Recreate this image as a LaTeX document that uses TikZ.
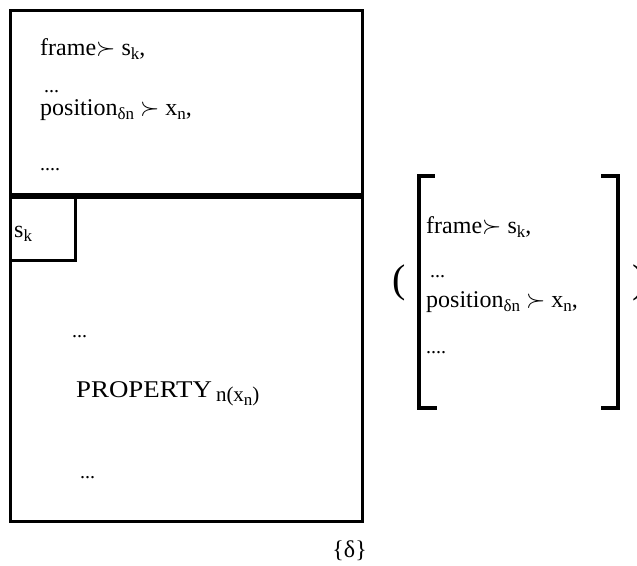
\documentclass[tikz,border=0pt]{standalone}
\usepackage{fontspec}
\setmainfont{Liberation Serif}
\usepackage{graphicx}
\newcommand\lo[1]{\raisebox{-0.2em}{\fontsize{17}{17}\selectfont #1}}
\newcommand\lobig[1]{\raisebox{-0.18em}{\fontsize{21}{21}\selectfont #1}}
\newcommand\pr{\ensuremath{\succ}}
\begin{document}
\begin{tikzpicture}[x=1pt,y=-1pt,
  txt/.style={anchor=base west,inner sep=0pt,font=\fontsize{24}{28}\selectfont},
  dots/.style={anchor=base west,inner sep=0pt,font=\fontsize{20}{24}\selectfont},
  boxline/.style={line width=3pt,line cap=rect},
  brk/.style={line width=3.5pt,line cap=rect,line join=miter}]
\useasboundingbox (0,0) rectangle (637,565);
% main frame
\draw[boxline] (10,10) rectangle (362,521);
\draw[line width=5.5pt] (10,196) -- (362,196);
\draw[boxline] (75,196) -- (75,260) -- (10,260);
% top box
\node[txt] (t1) at (40,55) {frame\pr\ s\lo{k},};
\node[dots] (t2) at (44,92) {...};
\node[txt] (t3) at (40,115) {position\lo{δn} \pr\ x\lo{n},};
\node[dots] (t4) at (40,170) {....};
% lower box
\node[txt] (sk) at (14,237) {s\lo{k}};
\node[dots] (d1) at (72,337) {...};
\node[txt] (prop) at (76,397) {\scalebox{1.12}[1]{PROPERTY}\,\lobig{n(x\lo{n})}};
\node[dots] (d2) at (80,478) {...};
\node[txt,anchor=base east] (dl) at (367,557) {\{δ\}};
% right bracket structure
\draw[brk] (433,176) -- (419,176) -- (419,408) -- (435,408);
\draw[brk] (603,176) -- (618,176) -- (618,408) -- (603,408);
\node[txt] (r1) at (426,233) {frame\pr\ s\lo{k},};
\node[dots] (r2) at (430,277) {...};
\node[txt] (r3) at (426,307) {position\lo{δn} \pr\ x\lo{n},};
\node[dots] (r4) at (426,353) {....};
\node[anchor=center,inner sep=0pt,font=\fontsize{40}{44}\selectfont] (lp) at (399,283) {(};
\node[anchor=west,inner sep=0pt,font=\fontsize{40}{44}\selectfont] (rp) at (632,283) {)};
\end{tikzpicture}
\end{document}
